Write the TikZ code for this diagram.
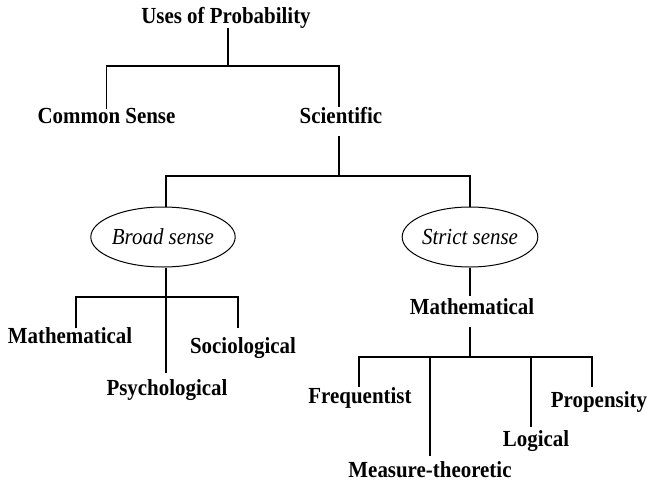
\documentclass[tikz,border=0pt]{standalone}
\usepackage{fontspec}
\setmainfont{Liberation Serif}
\newfontfamily\diagfont[FakeStretch=0.91]{Liberation Serif}
\usetikzlibrary{shapes.geometric,calc}
\tikzset{
  lbl/.style={anchor=base, inner sep=0pt, font=\diagfont\bfseries\fontsize{23}{27}\selectfont},
  oval/.style={ellipse, draw, line width=1pt, minimum width=132pt, minimum height=60pt, inner sep=0pt, font=\diagfont\itshape\fontsize{23}{27}\selectfont},
  conn/.style={line width=1.2pt}
}
\begin{document}
\begin{tikzpicture}[x=1pt,y=-1pt]
\useasboundingbox (0,0) rectangle (648,482);
% nodes
\node[lbl] (title) at (226,23) {Uses of Probability};
\node[lbl] (cs) at (106.5,123) {Common Sense};
\node[lbl] (sci) at (341,123) {Scientific};
\node[oval] (broad) at (163,237) {Broad sense};
\node[oval] (strict) at (470,237) {Strict sense};
\node[lbl] (mathL) at (70,343) {Mathematical};
\node[lbl] (soc) at (243,353) {Sociological};
\node[lbl] (psy) at (167,395) {Psychological};
\node[lbl] (mathR) at (472,314) {Mathematical};
\node[lbl] (freq) at (360,403) {Frequentist};
\node[lbl] (prop) at (599,407) {Propensity};
\node[lbl] (logi) at (536,446) {Logical};
\node[lbl] (meas) at (430,477) {Measure-theoretic};
% junctions
\coordinate (j1) at (228,66);
\coordinate (j2) at (339,176);
\coordinate (j3) at (166,297);
\coordinate (j4) at (470,357);
% helper end points
\path ([xshift=6pt,yshift=-1pt]mathL.north) coordinate (mlE);
\path ([xshift=-5pt,yshift=9pt]soc.north) coordinate (soE);
\path ([xshift=-1pt,yshift=6pt]psy.north) coordinate (psE);
\path ([xshift=-1pt]freq.north) coordinate (frE);
\path ([xshift=-7pt,yshift=4pt]prop.north) coordinate (prE);
\path ([xshift=-5pt,yshift=3pt]logi.north) coordinate (lgE);
\path ([yshift=5pt]meas.north) coordinate (meE);
\path ([yshift=-1pt]cs.north) coordinate (csE);
\path ([xshift=-2pt]sci.north) coordinate (scE);
% connectors
\draw[conn] (title.south -| j1) -- (j1);
\draw[conn] (csE) |- (j1) -| (scE);
\draw[conn] ([yshift=-13pt]sci.south -| j2) -- (j2);
\draw[conn] (broad.north -| j3) |- (j2) -| (strict.north);
\draw[conn] (broad.south -| j3) -- (j3);
\draw[conn] (mlE) |- (j3) -| (soE);
\draw[conn] (j3) -- (j3 |- psE);
\draw[conn] (strict.south) -- ([yshift=2pt]mathR.north -| strict.south);
\draw[conn] ([yshift=-13pt]mathR.south -| j4) -- (j4);
\draw[conn] (frE) |- (j4) -| (prE);
\draw[conn] (meE) -- (meE |- j4);
\draw[conn] (lgE) -- (lgE |- j4);
\end{tikzpicture}
\end{document}
